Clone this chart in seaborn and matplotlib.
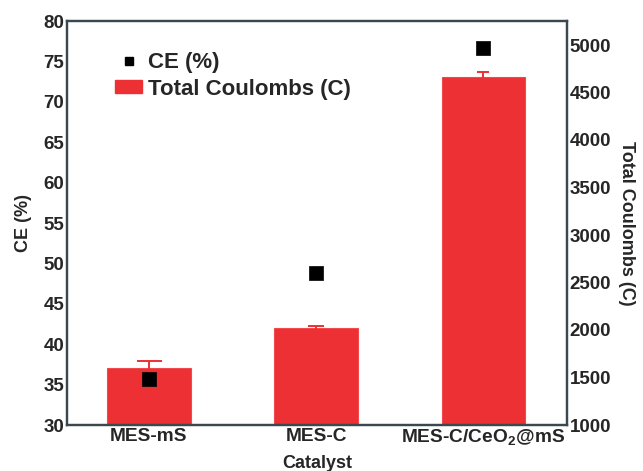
import matplotlib
matplotlib.use("Agg")
import matplotlib.pyplot as plt
import seaborn as sns
import pandas as pd
from matplotlib.lines import Line2D
from matplotlib.patches import Patch

# Catalysts and measured values
catalysts = ["MES-mS", "MES-C", r"MES-C/CeO$_{\mathbf{2}}$@mS"]
ce_percent = [35.7, 48.8, 76.7]
total_coulombs = [1600, 2020, 4660]
coulombs_err = [75, 22, 55]

ce_ticks = [30, 35, 40, 45, 50, 55, 60, 65, 70, 75, 80]
coulomb_ticks = [1000, 1500, 2000, 2500, 3000, 3500, 4000, 4500, 5000]

sns.set_style("white")
plt.rcParams["font.family"] = ["Liberation Sans", "DejaVu Sans"]
plt.rcParams["font.weight"] = "bold"
plt.rcParams["mathtext.fontset"] = "custom"
plt.rcParams["mathtext.bf"] = "Liberation Sans:bold"
plt.rcParams["mathtext.rm"] = "Liberation Sans:bold"

df = pd.DataFrame({"Catalyst": catalysts, "CE": ce_percent, "Coulombs": total_coulombs})

fig = plt.figure(figsize=(6.43, 4.71), dpi=100)
ax = fig.add_axes([67 / 643, 46 / 471, 500 / 643, 404 / 471])
ax2 = ax.twinx()

bar_color = "#EC3034"
spine_color = "#3b4850"
cap_sizes = [9, 6, 4.5]

# Total coulombs as bars on the right axis
sns.barplot(data=df, x="Catalyst", y="Coulombs", ax=ax2, color=bar_color,
            width=0.5, saturation=1, errorbar=None, edgecolor="#F04a4c", linewidth=0.8)
for i, (v, e) in enumerate(zip(total_coulombs, coulombs_err)):
    ax2.errorbar([i], [v], yerr=[e], fmt="none", ecolor=bar_color,
                 elinewidth=1.4, capsize=cap_sizes[i], capthick=1.4)

# Coulombic efficiency as square markers on the left axis
sns.scatterplot(data=df, x="Catalyst", y="CE", ax=ax, marker="s", s=95,
                color="black", edgecolor="black", linewidth=0.5, zorder=5)

ax.set_zorder(ax2.get_zorder() + 1)
ax.patch.set_visible(False)

ax.set_xlim(-0.49, 2.5)
ax.set_ylim(30, 80)
ax2.set_ylim(1000, 1000 + 404 / 47.5 * 500)

ax.set_yticks(ce_ticks)
ax2.set_yticks(coulomb_ticks)

for a in (ax, ax2):
    for s in a.spines.values():
        s.set_color(spine_color)
        s.set_linewidth(1.6)
    a.tick_params(axis="both", length=0, labelsize=13.5, pad=2)
    for lbl in a.get_xticklabels() + a.get_yticklabels():
        lbl.set_fontweight("bold")

ax.set_xticks(range(len(catalysts)))
ax.set_xticklabels(catalysts, fontsize=13.8, fontweight="bold")
ax2.set_xlabel("")

ax.set_xlabel("Catalyst", fontsize=13, fontweight="bold", labelpad=5)
ax.set_ylabel("CE (%)", fontsize=13, fontweight="bold", labelpad=8)
ax2.set_ylabel("Total Coulombs (C)", fontsize=13, fontweight="bold",
               rotation=270, labelpad=17)

handles = [
    Line2D([0], [0], marker="s", color="none", markerfacecolor="black",
           markeredgecolor="black", markersize=6),
    Patch(facecolor=bar_color, edgecolor=bar_color),
]
leg = ax.legend(handles, ["CE (%)", "Total Coulombs (C)"], loc="upper left",
                bbox_to_anchor=(0.079, 0.945), frameon=False,
                prop={"weight": "bold", "size": 16},
                handlelength=1.2, handleheight=0.55, handletextpad=0.25,
                labelspacing=0.25, borderaxespad=0)

fig.savefig("out.png", dpi=100)
